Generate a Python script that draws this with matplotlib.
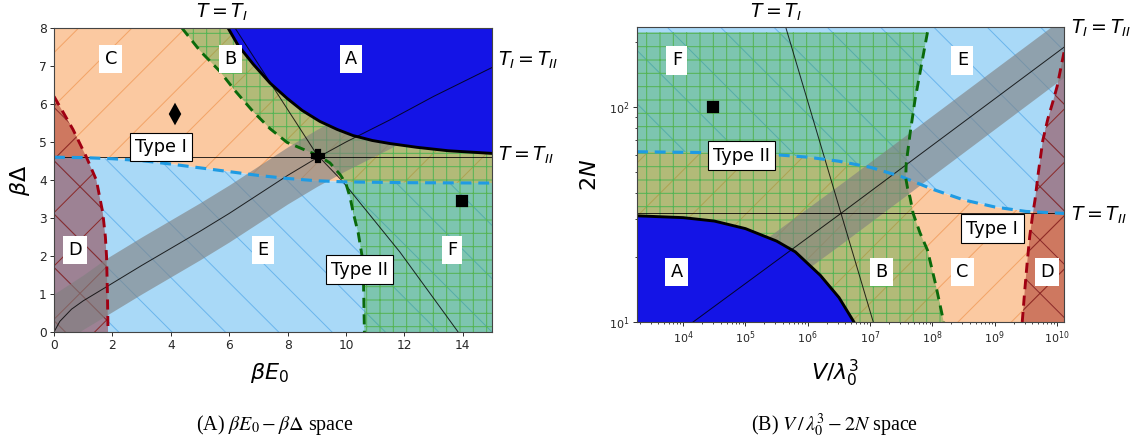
import numpy as np
import matplotlib
matplotlib.use("Agg")
import matplotlib.pyplot as plt
from matplotlib.ticker import NullFormatter

# ---------------- (A) beta E0 - beta Delta space ----------------
bE_lim = (0, 15)
bD_lim = (0, 8)

# Type I / Type II boundary (blue dashed)
typ_x = [0, 1, 2, 3, 4, 5, 6, 7, 8, 9, 10, 12, 15]
typ_y = [4.6, 4.59, 4.56, 4.51, 4.42, 4.32, 4.22, 4.12, 4.04, 3.98, 3.95, 3.93, 3.92]

# B/C, E/F boundary (green dashed)
grn_x = [4.38, 5.0, 5.68, 6.2, 6.82, 7.4, 7.98, 8.5, 9.0, 9.45, 9.8, 10.0, 10.14, 10.26, 10.42, 10.55, 10.6, 10.63]
grn_y = [8.0, 7.4, 6.86, 6.35, 5.8, 5.35, 4.99, 4.82, 4.66, 4.45, 4.14, 3.9, 3.54, 3.1, 2.6, 2.0, 1.3, 0.0]

# D boundary (red dashed)
red_x = [0.0, 0.3, 0.65, 1.1, 1.45, 1.67, 1.76, 1.8, 1.83, 1.85]
red_y = [6.2, 5.8, 5.33, 4.62, 4.0, 3.14, 2.5, 1.98, 1.0, 0.0]

# A boundary (solid black)
A_x = [5.96, 6.3, 6.82, 7.4, 7.98, 8.5, 9.11, 9.7, 10.24, 10.9, 11.5, 12.43, 13.5, 15]
A_y = [8.0, 7.55, 7.05, 6.55, 6.15, 5.83, 5.54, 5.33, 5.17, 5.04, 4.96, 4.86, 4.77, 4.7]

# T = T_I line
tI_x = [6.2, 7.5, 9.0, 9.9, 11.85, 13.84]
tI_y = [8.0, 6.45, 4.67, 3.95, 2.1, 0.0]

# T_I = T_II line with its band
eq_x = [0, 0.2, 0.6, 1.0, 1.8, 3, 4, 5, 6, 7, 8, 9, 10, 11.5, 13, 15]
eq_y = [0, 0.28, 0.6, 0.82, 1.19, 1.75, 2.2, 2.65, 3.12, 3.62, 4.12, 4.58, 5.0, 5.58, 6.2, 6.96]
eq_hi = [1.0, 1.1, 1.3, 1.5, 1.94, 2.5, 2.95, 3.4, 3.87, 4.37, 4.87, 5.33, 5.75, 6.33, 6.95, 7.71]
eq_lo = [-0.75, -0.47, -0.15, 0.07, 0.44, 1.0, 1.45, 1.9, 2.37, 2.87, 3.37, 3.83, 4.25, 4.83, 5.45, 6.21]

tII_left = 4.6

mk_diamond = (4.14, 5.73)
mk_plus = (9.04, 4.62)
mk_square = (13.97, 3.46)

labels_left = {"C": (1.95, 7.18), "B": (6.03, 7.18), "A": (10.17, 7.18),
               "D": (0.72, 2.16), "E": (7.16, 2.16), "F": (13.63, 2.16)}
type_left = {"Type I": (3.66, 4.87), "Type II": (10.46, 1.64)}

# ---------------- (B) V/lambda^3 - 2N space ----------------
logV_lim = (3.26, 10.11)
N_lim = (10, 236)

typ_lv = [3.26, 4.2, 5.0, 5.5, 6.0, 6.5, 7.0, 7.5, 8.0, 8.5, 9.0, 9.5, 10.11]
typ_n = [62, 61.5, 61, 60, 58.5, 56, 52.5, 47.5, 41.5, 37, 34.3, 32.7, 32]

grn_lv = [7.92, 7.81, 7.72, 7.64, 7.58, 7.57, 7.6, 7.64, 7.69, 7.8, 7.92, 8.05, 8.18]
grn_n = [223, 150, 108, 75, 55, 47, 42, 38, 32, 26, 21.6, 15, 10]

red_lv = [10.11, 10.0, 9.94, 9.85, 9.77, 9.7, 9.645, 9.61, 9.56, 9.52, 9.48, 9.44]
red_n = [180, 125, 108, 88, 70, 50, 37, 32, 25, 19, 14, 10]

A_lv = [3.26, 4.0, 4.5, 5.0, 5.5, 5.8, 6.2, 6.5, 6.74]
A_n = [31.2, 30.6, 29.5, 27.2, 23.8, 21.2, 16.5, 13, 10]

tI_lv = [5.645, 7.05]
tI_n = [236, 10]

eq_lv = [3.26, 4.16, 6.53, 10.11]
eq_n = [6.4, 10, 32, 190]
eq_n_hi = [8.8, 13.8, 44, 262]
eq_n_lo = [4.6, 7.2, 23, 138]

tII_right = 32

mk_square_r = (3.0e4, 100)

labels_right = {"F": (3.9, 165), "E": (8.48, 165), "A": (3.9, 17.1),
                "B": (7.18, 17.1), "C": (8.48, 17.1), "D": (9.84, 17.1)}
type_right = {"Type II": (4.94, 59.4), "Type I": (8.96, 27.2)}

# colours
c_orange, h_orange = "#fbc9a1", "#f3a468"
c_blue, h_blue = "#a9d9f7", "#6cb6ec"
c_green, h_green = "#2ca02c", "#55b455"
c_red, h_red = "#8b0000", "#8b2a2a"
c_A = "#1414e6"
c_dash_blue = "#1f9be3"
c_dash_green = "#0b6a0b"
c_dash_red = "#a00012"
dash = (0, (3.5, 2.2))

plt.rcParams["hatch.linewidth"] = 0.45

DPI = 160
fig = plt.figure(figsize=(1138 / DPI, 444 / DPI), dpi=DPI)
axL = fig.add_axes([54 / 1138, 1 - 332 / 444, 438 / 1138, 304 / 444])
axR = fig.add_axes([637 / 1138, 1 - 322 / 444, 427 / 1138, 295 / 444])


def hatched(fill, *args, face, alpha, hatch, hcolor, z):
    fill(*args, facecolor=face, alpha=alpha, lw=0, zorder=z)
    fill(*args, facecolor="none", edgecolor=hcolor, hatch=hatch, lw=0, zorder=z)


def box_label(ax, x, y, s, edge):
    ax.text(x, y, s, ha="center", va="center", fontsize=8, zorder=10,
            bbox=dict(boxstyle="square,pad=0.3", fc="white",
                      ec="black" if edge else "none", lw=0.5))


# ---- left panel ----
ax = axL
hatched(ax.fill_between, typ_x, typ_y, bD_lim[1], face=c_orange, alpha=1, hatch="/", hcolor=h_orange, z=1)
hatched(ax.fill_between, typ_x, bD_lim[0], typ_y, face=c_blue, alpha=1, hatch="\\", hcolor=h_blue, z=1)
hatched(ax.fill_betweenx, grn_y, grn_x, bE_lim[1], face=c_green, alpha=0.35, hatch="++", hcolor=h_green, z=2)
hatched(ax.fill_betweenx, red_y, bE_lim[0], red_x, face=c_red, alpha=0.4, hatch="x", hcolor=h_red, z=2)
ax.fill_between(eq_x, eq_lo, eq_hi, color="gray", alpha=0.62, lw=0, zorder=3)
ax.fill_between(A_x, A_y, bD_lim[1], color=c_A, lw=0, zorder=4)

ax.plot(A_x, A_y, color="black", lw=1.3, zorder=6)
ax.plot(typ_x, typ_y, color=c_dash_blue, lw=1.4, ls=dash, zorder=6)
ax.plot(grn_x, grn_y, color=c_dash_green, lw=1.3, ls=dash, zorder=6)
ax.plot(red_x, red_y, color=c_dash_red, lw=1.3, ls=dash, zorder=6)
ax.plot(tI_x, tI_y, color="black", lw=0.45, alpha=0.8, zorder=5)
ax.plot(eq_x, eq_y, color="black", lw=0.45, alpha=0.8, zorder=5)
ax.axhline(tII_left, color="black", lw=0.45, alpha=0.8, zorder=5)

ax.plot(*mk_diamond, "d", color="black", ms=5.5, zorder=7)
ax.plot(*mk_plus, "P", color="black", ms=5.5, zorder=7)
ax.plot(*mk_square, "s", color="black", ms=4.3, zorder=7)

for s, (x, y) in labels_left.items():
    box_label(ax, x, y, s, False)
for s, (x, y) in type_left.items():
    box_label(ax, x, y, s, True)

ax.set_xlim(*bE_lim)
ax.set_ylim(*bD_lim)
ax.set_xticks(range(0, 16, 2))
ax.set_yticks(range(0, 9))

# ---- right panel ----
ax = axR
V_lim = (10 ** logV_lim[0], 10 ** logV_lim[1])
typ_v = 10.0 ** np.array(typ_lv)
grn_v = 10.0 ** np.array(grn_lv)
red_v = 10.0 ** np.array(red_lv)
A_v = 10.0 ** np.array(A_lv)
tI_v = 10.0 ** np.array(tI_lv)
eq_v = 10.0 ** np.array(eq_lv)

hatched(ax.fill_between, typ_v, typ_n, N_lim[1], face=c_blue, alpha=1, hatch="\\", hcolor=h_blue, z=1)
hatched(ax.fill_between, typ_v, N_lim[0], typ_n, face=c_orange, alpha=1, hatch="/", hcolor=h_orange, z=1)
hatched(ax.fill_betweenx, grn_n, V_lim[0], grn_v, face=c_green, alpha=0.35, hatch="++", hcolor=h_green, z=2)
hatched(ax.fill_betweenx, red_n, red_v, V_lim[1], face=c_red, alpha=0.4, hatch="x", hcolor=h_red, z=2)
ax.fill_between(eq_v, eq_n_lo, eq_n_hi, color="gray", alpha=0.62, lw=0, zorder=3)
ax.fill_between(A_v, N_lim[0], A_n, color=c_A, lw=0, zorder=4)

ax.plot(A_v, A_n, color="black", lw=1.3, zorder=6)
ax.plot(typ_v, typ_n, color=c_dash_blue, lw=1.4, ls=dash, zorder=6)
ax.plot(grn_v, grn_n, color=c_dash_green, lw=1.3, ls=dash, zorder=6)
ax.plot(red_v, red_n, color=c_dash_red, lw=1.3, ls=dash, zorder=6)
ax.plot(tI_v, tI_n, color="black", lw=0.45, alpha=0.8, zorder=5)
ax.plot(eq_v, eq_n, color="black", lw=0.45, alpha=0.8, zorder=5)
ax.axhline(tII_right, color="black", lw=0.45, alpha=0.8, zorder=5)

ax.plot(*mk_square_r, "s", color="black", ms=4.3, zorder=7)

for s, (lv, n) in labels_right.items():
    box_label(ax, 10 ** lv, n, s, False)
for s, (lv, n) in type_right.items():
    box_label(ax, 10 ** lv, n, s, True)

ax.set_xscale("log")
ax.set_yscale("log")
ax.set_xlim(*V_lim)
ax.set_ylim(*N_lim)
ax.yaxis.set_minor_formatter(NullFormatter())
ax.xaxis.set_minor_formatter(NullFormatter())

for ax, ls in ((axL, 5.5), (axR, 5)):
    ax.tick_params(which="major", labelsize=ls, length=1.8, width=0.45, pad=1.5,
                   color="#333333", labelcolor="#262626")
    ax.tick_params(which="minor", length=1.1, width=0.4, color="#333333")
    for sp in ax.spines.values():
        sp.set_linewidth(0.5)
        sp.set_color("#444444")
        sp.set_zorder(8)

# ---- outer texts ----
def fx(px):
    return px / 1138


def fy(py):
    return 1 - py / 444


tk = dict(fontsize=8.5, va="center")
fig.text(fx(222), fy(12), r"$T = T_I$", ha="center", **tk)
fig.text(fx(498), fy(60), r"$T_I = T_{II}$", ha="left", **tk)
fig.text(fx(498), fy(155), r"$T = T_{II}$", ha="left", **tk)
fig.text(fx(776), fy(12), r"$T = T_I$", ha="center", **tk)
fig.text(fx(1071), fy(28), r"$T_I = T_{II}$", ha="left", **tk)
fig.text(fx(1071), fy(215), r"$T = T_{II}$", ha="left", **tk)

fig.text(fx(20), fy(180), r"$\beta\Delta$", rotation=90, ha="center", va="center", fontsize=10)
fig.text(fx(270), fy(373), r"$\beta E_0$", ha="center", va="center", fontsize=10)
fig.text(fx(590), fy(175), r"$2N$", rotation=90, ha="center", va="center", fontsize=10)
fig.text(fx(835), fy(373), r"$V/\lambda_0^3$", ha="center", va="center", fontsize=10)

cap = dict(fontsize=9, ha="center", va="center", family="Liberation Serif", math_fontfamily="stix")
fig.text(fx(275), fy(425), r"(A) $\beta E_0 - \beta\Delta$ space", **cap)
fig.text(fx(835), fy(425), r"(B) $V\,/\,\lambda_0^3 - 2N$ space", **cap)

fig.savefig("out.png", dpi=DPI)
